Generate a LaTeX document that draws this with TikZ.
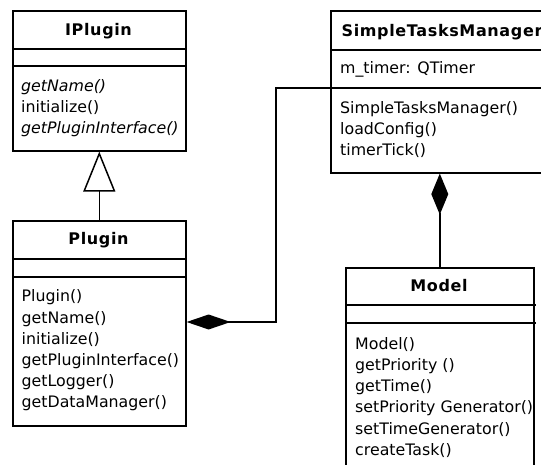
\documentclass[tikz,border=0pt]{standalone}
\usepackage{fontspec}
\setmainfont{DejaVu Sans}
\newfontfamily\titlefont[LetterSpace=4]{DejaVu Sans}
\usetikzlibrary{arrows.meta}

\begin{document}
\begin{tikzpicture}[x=1pt,y=-1pt,
  box/.style={draw, line width=1.6pt, inner sep=0pt, anchor=north west},
  sep/.style={line width=1.6pt},
  title/.style={anchor=base, inner sep=0pt, font={\titlefont\bfseries\fontsize{16}{19}\selectfont}},
  member/.style={anchor=base west, inner sep=0pt, font={\fontsize{15.8}{19}\selectfont}},
  link/.style={line width=1.5pt},
]
\useasboundingbox (0,0) rectangle (541,465);
\clip (0,0) rectangle (541,465);

% ---- class IPlugin ----
\node[box, minimum width=173pt, minimum height=140pt] (iplugin) at (12,10) {};
\draw[sep] (12,49) -- (187,49);
\draw[sep] (12,66) -- (187,66);
\node[title] (iplugin-name) at (98.5,36) {IPlugin};
\node[member] (ip-m1) at (21,91.5) {\itshape getName()};
\node[member] (ip-m2) at (21,112.7) {initialize()};
\node[member] (ip-m3) at (21,134) {\itshape getPluginInterface()};

% ---- class Plugin ----
\node[box, minimum width=173pt, minimum height=205pt] (plugin) at (12,220) {};
\draw[sep] (12,259) -- (187,259);
\draw[sep] (12,277) -- (187,277);
\node[title] (plugin-name) at (98.5,245) {Plugin};
\node[member] (pl-m1) at (21.5,301.7) {Plugin()};
\node[member] (pl-m2) at (21.5,323) {getName()};
\node[member] (pl-m3) at (21.5,344.2) {initialize()};
\node[member] (pl-m4) at (21.5,365.4) {getPluginInterface()};
\node[member] (pl-m5) at (21.5,386.6) {getLogger()};
\node[member] (pl-m6) at (21.5,407.8) {getDataManager()};

% ---- class SimpleTasksManager ----
\node[box, minimum width=220pt, minimum height=162pt] (stm) at (330,10) {};
\draw[sep] (330,50) -- (552,50);
\draw[sep] (330,88) -- (552,88);
\node[title] (stm-name) at (442,36.5) {SimpleTasksManager};
\node[member] (stm-a1) at (340,73.3) {m\_timer: QTimer};
\node[member] (stm-m1) at (340,113.3) {SimpleTasksManager()};
\node[member] (stm-m2) at (340,134.5) {loadConfig()};
\node[member] (stm-m3) at (340,155.5) {timerTick()};

% ---- class Model ----
\node[box, minimum width=188pt, minimum height=230pt] (model) at (345,267) {};
\draw[sep] (345,305) -- (536,305);
\draw[sep] (345,323) -- (536,323);
\node[title] (model-name) at (439,291.5) {Model};
\node[member] (md-m1) at (355,349) {Model()};
\node[member] (md-m2) at (355,370) {getPriority ()};
\node[member] (md-m3) at (355,391.5) {getTime()};
\node[member] (md-m4) at (355,412.5) {setPriority Generator()};
\node[member] (md-m5) at (355,434) {setTimeGenerator()};
\node[member] (md-m6) at (355,455) {createTask()};

% ---- relations ----
% Plugin realises IPlugin
\draw[link, -{Triangle[open, length=40pt, width=32pt, fill=white]}]
  (plugin.north) -- (iplugin.south);

% Plugin is composed into SimpleTasksManager
\coordinate (pbend) at (276,322);
\coordinate (sbend) at (276,88);
\draw[link, -{Diamond[length=44pt, width=15pt]}]
  (stm.west |- sbend) -- (sbend) -- (pbend) -- (plugin.east |- pbend);

% Model is composed into SimpleTasksManager
\draw[link, -{Diamond[length=41pt, width=17pt]}]
  (model.north) -- (model.north |- stm.south);
\end{tikzpicture}
\end{document}
